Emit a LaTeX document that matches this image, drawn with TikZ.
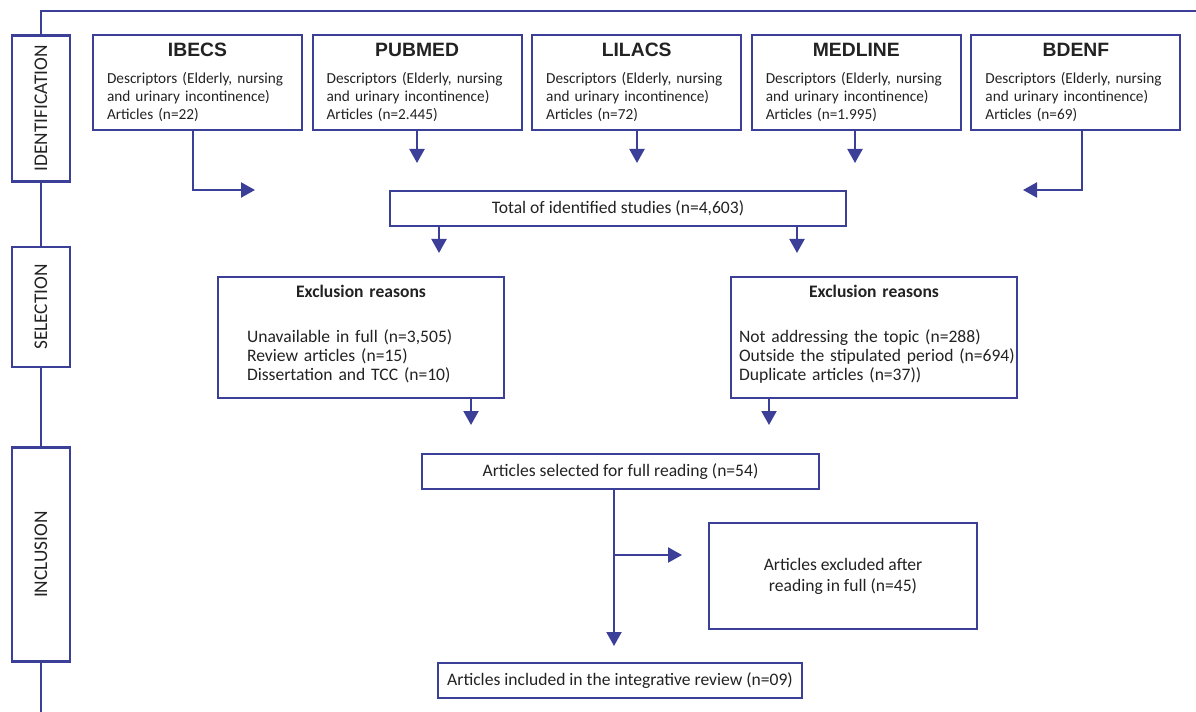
\documentclass[tikz,border=0pt]{standalone}
\usepackage{fontspec}
\setmainfont{Carlito}
\newfontfamily\arialfont{Liberation Sans}
\usetikzlibrary{arrows.meta}
\definecolor{flowblue}{HTML}{3B3F97}
\definecolor{inkgray}{HTML}{222222}
\hyphenpenalty=10000

\begin{document}
\begin{tikzpicture}[x=0.02cm, y=-0.02cm, line width=1.2pt, text=inkgray,
    stage/.style={draw=flowblue, rotate=90, minimum height=1.16cm, text centered, font=\fontsize{11}{13}\selectfont},
    source/.style={draw=flowblue, minimum width=4.18cm, minimum height=1.9cm, text width=3.62cm, inner xsep=0.28cm, align=left, font=\fontsize{8.7}{10.2}\selectfont},
    box/.style={draw=flowblue, minimum height=0.7cm, text centered, font=\fontsize{10}{12}\selectfont},
    reasons/.style={draw=flowblue, minimum width=5.72cm, minimum height=2.42cm, text width=5.72cm, inner xsep=0pt, align=left, font=\fontsize{10}{11}\selectfont},
    arrow/.style={draw=flowblue, -{Triangle[length=0.28cm,width=0.3cm]}},
    link/.style={draw=flowblue}]

    \useasboundingbox (0,0) rectangle (1196,712);

    % Stages
    \node (ident) [stage, minimum width=2.92cm] at (41,108.5) {IDENTIFICATION};
    \node (select) [stage, minimum width=2.4cm] at (41,307) {SELECTION};
    \node (incl) [stage, minimum width=4.28cm] at (41,554.5) {INCLUSION};

    \coordinate (spine) at (41,11);
    \coordinate (corner) at (1196,11);
    \coordinate (spineend) at (41,712);
    \draw[link] (corner) -- (spine) -- (ident);
    \foreach \i/\j in {ident/select, select/incl, incl/spineend} {
        \draw[link] (\i) -- (\j);
    }

    % Databases
    \foreach \nm/\db/\n [count=\k from 0] in {ibecs/IBECS/22, pubmed/PUBMED/2.445, lilacs/LILACS/72, medline/MEDLINE/1.995, bdenf/BDENF/69} {
        \node (\nm) [source] at (197.5+219.6*\k, 82.5) {{\centering\arialfont\bfseries\fontsize{11}{13}\selectfont \db\par}\vspace{5pt}Descriptors (Elderly, nursing\\and urinary incontinence)\\Articles (n=\n)};
    }

    \coordinate (ibecs-in) at (255,190);
    \coordinate (bdenf-in) at (1023,190);
    \coordinate (pubmed-in) at (417,163);
    \coordinate (lilacs-in) at (637,163);
    \coordinate (medline-in) at (855,163);
    \draw[arrow] ([xshift=-0.09cm]ibecs.south) |- (ibecs-in);
    \draw[arrow] ([xshift=0.12cm]bdenf.south) |- (bdenf-in);
    \foreach \i in {pubmed, lilacs, medline} {
        \draw[arrow] (\i.south -| \i-in) -- (\i-in);
    }

    % Selection
    \node (total) [box, minimum width=9.12cm] at (618,208.5) {Total of identified studies (n=4,603)};

    \node (exleft) [reasons] at (361,337.5) {{\centering\bfseries Exclusion reasons\par}\vspace{0.5cm}\leftskip=0.58cm Unavailable in full (n=3,505)\\Review articles (n=15)\\Dissertation and TCC (n=10)\par\vspace{0.12cm}};
    \node (exright) [reasons] at (874,337.5) {{\centering\bfseries Exclusion reasons\par}\vspace{0.5cm}\leftskip=0.16cm Not addressing the topic (n=288)\\Outside the stipulated period (n=694)\\Duplicate articles (n=37))\par\vspace{0.12cm}};

    \coordinate (exleft-in) at (439,253);
    \coordinate (exright-in) at (797,253);
    \coordinate (selleft-in) at (471,425);
    \coordinate (selright-in) at (769,425);
    \draw[arrow] (total.south -| exleft-in) -- (exleft-in);
    \draw[arrow] (total.south -| exright-in) -- (exright-in);
    \draw[arrow] (exleft.south -| selleft-in) -- (selleft-in);
    \draw[arrow] (exright.south -| selright-in) -- (selright-in);

    % Inclusion
    \node (selected) [box, minimum width=7.94cm] at (620.5,471.5) {Articles selected for full reading (n=54)};
    \node (excluded) [box, minimum width=5.36cm, minimum height=2.12cm, align=center] at (843,576) {Articles excluded after\\reading in full (n=45)};
    \node (included) [box, minimum width=7.28cm] at (620,680.5) {Articles included in the integrative review (n=09)};

    \coordinate (split) at (614,555);
    \coordinate (excl-in) at (682,555);
    \coordinate (incl-in) at (614,646);
    \draw[arrow] (selected.south -| incl-in) -- (incl-in);
    \draw[arrow] (split) -- (excl-in);

\end{tikzpicture}
\end{document}
